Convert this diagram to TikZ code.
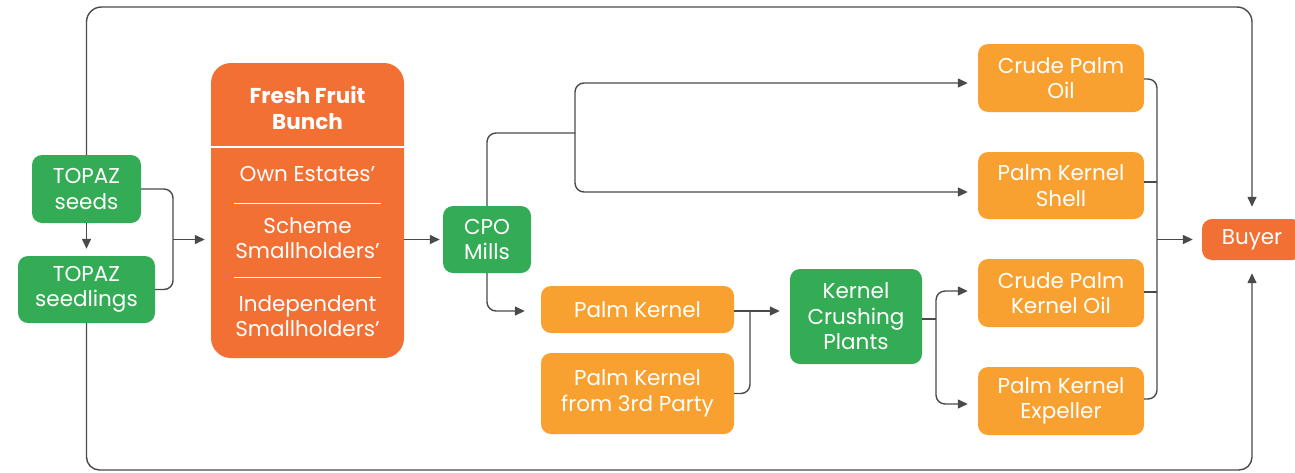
\documentclass[tikz,border=0pt]{standalone}
\usepackage{fontspec}
\setmainfont{Poppins}
\usetikzlibrary{arrows.meta,calc}
\definecolor{leafgreen}{HTML}{34AC56}
\definecolor{palmorange}{HTML}{F9A130}
\definecolor{fruitred}{HTML}{F37034}
\definecolor{wire}{HTML}{4A4A4A}
\tikzset{
  stage/.style={rounded corners=10pt, text=white, align=center, inner sep=0pt,
    font=\fontsize{21.5}{25.5}\selectfont},
  greenbox/.style={stage, fill=leafgreen},
  yellowbox/.style={stage, fill=palmorange},
  redbox/.style={stage, fill=fruitred},
  link/.style={draw=wire, line width=1.4pt, rounded corners=9pt},
  flow/.style={link, -{Triangle[length=10pt,width=9pt]}},
  ffbtext/.style={text=white, align=center, inner sep=0pt,
    font=\fontsize{21.5}{25.5}\selectfont},
}
\begin{document}
\begin{tikzpicture}[x=1pt,y=-1pt]
\useasboundingbox (0,0) rectangle (1295,472);

% sources
\node[greenbox, minimum width=109pt, minimum height=68pt] (seeds) at (86.5,189) {TOPAZ\\seeds};
\node[greenbox, minimum width=137pt, minimum height=67pt] (seedlings) at (86.5,289.5) {TOPAZ\\seedlings};

% fresh fruit bunch panel
\node[redbox, rounded corners=20pt, minimum width=193pt, minimum height=295pt] (ffb) at (307.5,210.5) {};
\node[ffbtext, font=\fontsize{21.5}{25.5}\selectfont\bfseries] (ffbtitle) at (307.5,108) {Fresh Fruit\\Bunch};
\coordinate (hdrL) at (211,147);
\coordinate (hdrR) at (404,147);
\draw[white, line width=1.6pt] (hdrL) -- (hdrR);
\node[ffbtext] (own) at (307.5,174) {Own Estates’};
\coordinate (d1L) at (234,203);
\coordinate (d1R) at (381,203);
\draw[white, line width=0.8pt] (d1L) -- (d1R);
\node[ffbtext] (scheme) at (307.5,238) {Scheme\\Smallholders’};
\coordinate (d2L) at (234,277);
\coordinate (d2R) at (381,277);
\draw[white, line width=0.8pt] (d2L) -- (d2R);
\node[ffbtext] (indep) at (307.5,316) {Independent\\Smallholders’};

% processing
\node[greenbox, minimum width=88pt, minimum height=67pt] (cpo) at (487,239.5) {CPO\\Mills};
\node[yellowbox, minimum width=193pt, minimum height=47pt] (pk) at (637.5,309.5) {Palm Kernel};
\node[yellowbox, minimum width=193pt, minimum height=81pt] (pk3) at (637.5,393.5) {Palm Kernel\\from 3rd Party};
\node[greenbox, minimum width=132pt, minimum height=95pt] (kcp) at (856,316.5) {Kernel\\Crushing\\Plants};

% products
\node[yellowbox, minimum width=166pt, minimum height=68pt] (cpoil) at (1061,78) {Crude Palm\\Oil};
\node[yellowbox, minimum width=166pt, minimum height=67pt] (pks) at (1061,185.5) {Palm Kernel\\Shell};
\node[yellowbox, minimum width=166pt, minimum height=68pt] (cpko) at (1061,293) {Crude Palm\\Kernel Oil};
\node[yellowbox, minimum width=166pt, minimum height=68pt] (pke) at (1061,401) {Palm Kernel\\Expeller};
\node[redbox, minimum width=100pt, minimum height=41pt] (buyer) at (1252,239.5) {Buyer};

% junctions
\coordinate (jseed) at (173,239.5);
\coordinate (jmill) at (575,133);
\coordinate (jker) at (750,311);
\coordinate (jcrush) at (936,319);
\coordinate (jprod) at (1157,239.5);
\coordinate (topleft) at (86.5,7);
\coordinate (topright) at (1252,7);
\coordinate (botleft) at (86.5,470);
\coordinate (botright) at (1252,470);

% outer loops to the buyer
\draw[flow, rounded corners=15pt, shorten >=12pt] (seeds.north) -- (topleft) -- (topright) -- (buyer.north);
\draw[flow, rounded corners=13pt, shorten >=13pt] (seedlings.south) -- (botleft) -- (botright) -- (buyer.south);

% seeds to seedlings and into the fruit panel
\draw[flow, shorten >=7pt] (seeds.south) -- (seedlings.north);
\draw[link] (seeds.east) -| (jseed);
\draw[link] (seedlings.east) -| (jseed);
\draw[flow, shorten >=6pt] (jseed) -- (jseed -| ffb.west);
\draw[flow, shorten >=3pt] (ffb.east |- cpo.west) -- (cpo.west);

% mill outputs
\draw[link] (cpo.north) |- (jmill);
\draw[flow, shorten >=10pt] (jmill) |- ($(cpoil.west)+(0,5)$);
\draw[flow, shorten >=10pt] (jmill) |- ($(pks.west)+(0,6.5)$);
\draw[flow, shorten >=16pt] (cpo.south) |- ($(pk.west)+(0,1.5)$);

% kernel crushing
\draw[flow, shorten >=10pt] ($(pk.east)+(0,1.5)$) -- ($(pk.east -| kcp.west)+(0,1.5)$);
\draw[link] (pk3.east) -| (jker);
\draw[link] (kcp.east |- jcrush) -- (jcrush);
\draw[flow, shorten >=10pt] (jcrush) |- ($(cpko.west)+(0,-2)$);
\draw[flow, shorten >=10pt] (jcrush) |- ($(pke.west)+(0,3)$);

% products to buyer
\draw[link] ($(cpoil.east)+(0,1)$) -| (jprod);
\draw[link] ($(pke.east)+(0,-2)$) -| (jprod);
\draw[link] ($(pks.east)+(0,-3.5)$) -- ($(pks.east -| jprod)+(0,-3.5)$);
\draw[link] ($(cpko.east)+(0,-1)$) -- ($(cpko.east -| jprod)+(0,-1)$);
\draw[flow, shorten >=9pt] (jprod) -- (buyer.west);
\end{tikzpicture}
\end{document}
